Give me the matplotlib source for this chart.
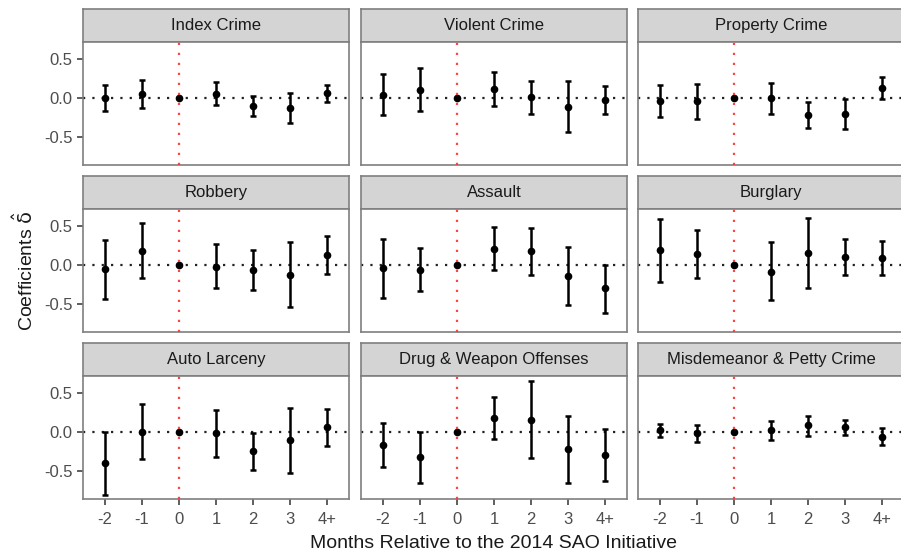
import matplotlib
matplotlib.use("Agg")
import matplotlib.pyplot as plt
import numpy as np

plt.rcParams['font.family'] = ['Liberation Sans', 'DejaVu Sans']
plt.rcParams['mathtext.fontset'] = 'dejavusans'

months = ["-2", "-1", "0", "1", "2", "3", "4+"]
panels = ["Index Crime", "Violent Crime", "Property Crime",
          "Robbery", "Assault", "Burglary",
          "Auto Larceny", "Drug & Weapon Offenses", "Misdemeanor & Petty Crime"]

est_index = [0.00, 0.05, 0.0, 0.055, -0.106, -0.128, 0.06]
lo_index = [-0.16, -0.13, 0.0, -0.094, -0.234, -0.32, -0.055]
hi_index = [0.17, 0.225, 0.0, 0.20, 0.02, 0.064, 0.166]

est_violent = [0.043, 0.106, 0.0, 0.115, 0.01, -0.115, -0.02]
lo_violent = [-0.213, -0.166, 0.0, -0.106, -0.20, -0.43, -0.204]
hi_violent = [0.31, 0.374, 0.0, 0.33, 0.22, 0.213, 0.153]

est_property = [-0.043, -0.043, 0.0, 0.0, -0.217, -0.204, 0.128]
lo_property = [-0.247, -0.264, 0.0, -0.204, -0.383, -0.396, -0.013]
hi_property = [0.16, 0.174, 0.0, 0.196, -0.047, -0.017, 0.268]

est_robbery = [-0.056, 0.18, 0.0, -0.021, -0.068, -0.132, 0.128]
lo_robbery = [-0.436, -0.171, 0.0, -0.29, -0.32, -0.534, -0.111]
hi_robbery = [0.312, 0.538, 0.0, 0.26, 0.188, 0.286, 0.367]

est_assault = [-0.038, -0.06, 0.0, 0.209, 0.171, -0.141, -0.295]
lo_assault = [-0.415, -0.333, 0.0, -0.064, -0.128, -0.513, -0.603]
hi_assault = [0.333, 0.218, 0.0, 0.483, 0.47, 0.23, 0.0]

est_burglary = [0.184, 0.141, 0.0, -0.085, 0.15, 0.103, 0.09]
lo_burglary = [-0.218, -0.162, 0.0, -0.449, -0.295, -0.128, -0.132]
hi_burglary = [0.577, 0.444, 0.0, 0.286, 0.598, 0.329, 0.303]

est_auto = [-0.397, 0.0, 0.0, -0.017, -0.244, -0.107, 0.064]
lo_auto = [-0.795, -0.342, 0.0, -0.312, -0.479, -0.521, -0.179]
hi_auto = [0.0, 0.359, 0.0, 0.282, -0.017, 0.299, 0.295]

est_drug = [-0.162, -0.316, 0.0, 0.18, 0.158, -0.222, -0.295]
lo_drug = [-0.444, -0.645, 0.0, -0.085, -0.329, -0.645, -0.628]
hi_drug = [0.12, 0.0, 0.0, 0.444, 0.65, 0.197, 0.038]

est_misd = [0.026, -0.017, 0.0, 0.026, 0.085, 0.06, -0.06]
lo_misd = [-0.068, -0.132, 0.0, -0.098, -0.047, -0.043, -0.167]
hi_misd = [0.107, 0.085, 0.0, 0.141, 0.209, 0.154, 0.047]

data = [
    (est_index, lo_index, hi_index),
    (est_violent, lo_violent, hi_violent),
    (est_property, lo_property, hi_property),
    (est_robbery, lo_robbery, hi_robbery),
    (est_assault, lo_assault, hi_assault),
    (est_burglary, lo_burglary, hi_burglary),
    (est_auto, lo_auto, hi_auto),
    (est_drug, lo_drug, hi_drug),
    (est_misd, lo_misd, hi_misd),
]

W, H = 901, 554
fig = plt.figure(figsize=(W / 100, H / 100), dpi=100)

col_left = [83, 361, 638]
panel_w = 266
strip_top = [9, 176, 343]
strip_h = 33
plot_h = 123

border_col = '#7F7F7F'
strip_fill = '#D4D4D4'
tick_col = '#4D4D4D'

x = np.arange(len(months))

for i, name in enumerate(panels):
    r, c = divmod(i, 3)
    left = col_left[c]
    stop = strip_top[r]
    # strip
    sax = fig.add_axes([left / W, 1 - (stop + strip_h) / H, panel_w / W, strip_h / H])
    sax.set_facecolor(strip_fill)
    sax.set_xticks([]); sax.set_yticks([])
    for sp in sax.spines.values():
        sp.set_color(border_col); sp.set_linewidth(1.2)
    sax.text(0.5, 0.5, name, ha='center', va='center', fontsize=12,
             color='#1A1A1A', transform=sax.transAxes)
    # panel
    ax = fig.add_axes([left / W, 1 - (stop + strip_h + plot_h) / H, panel_w / W, plot_h / H])
    est, lo, hi = data[i]
    est = np.array(est); lo = np.array(lo); hi = np.array(hi)
    ax.axhline(0, color='#222222', linestyle=(0, (1, 3.2)), linewidth=1.6, zorder=1)
    ax.errorbar(x, est, yerr=[est - lo, hi - est], fmt='o', color='black',
                ms=4.5, elinewidth=1.8, capsize=2.2, capthick=1.8, zorder=3)
    ax.axvline(2, color='#FF3030', linestyle=(0, (1, 3.5)), linewidth=1.6, zorder=4, alpha=0.9)
    ax.set_xlim(-0.6, 6.6)
    ax.set_ylim(-0.85, 0.71)
    for sp in ax.spines.values():
        sp.set_color(border_col); sp.set_linewidth(1.2)
    ax.tick_params(colors='#333333', labelcolor=tick_col, length=4, width=1.1, labelsize=12)
    ax.tick_params(axis='x', pad=5)
    if c == 0:
        ax.set_yticks([-0.5, 0.0, 0.5])
        ax.set_yticklabels(['-0.5', '0.0', '0.5'])
    else:
        ax.set_yticks([])
    if r == 2:
        ax.set_xticks(x)
        ax.set_xticklabels(months)
    else:
        ax.set_xticks([])

fig.text(494 / W, 1 - 543 / H, "Months Relative to the 2014 SAO Initiative",
         ha='center', va='center', fontsize=14, color='#1A1A1A')
fig.text(25 / W, 1 - 271 / H, r"Coefficients $\hat{\mathrm{\delta}}$", rotation=90,
         ha='center', va='center', fontsize=14, color='#1A1A1A')

fig.savefig("out.png", dpi=100)
